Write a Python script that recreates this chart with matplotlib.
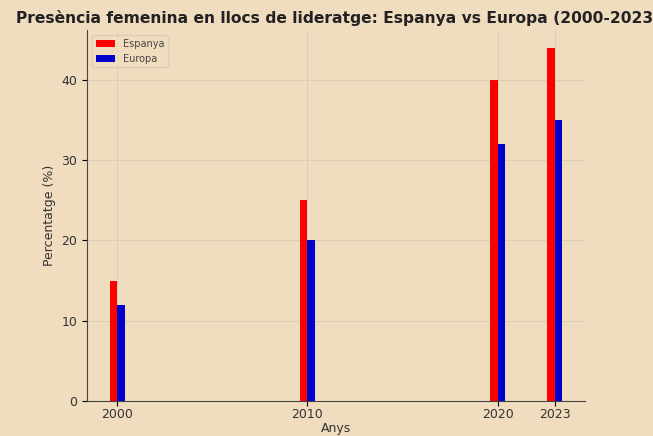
import matplotlib
matplotlib.use("Agg")
import matplotlib.pyplot as plt
import numpy as np

years = [2000, 2010, 2020, 2023]
espanya = [15, 25, 40, 44]
europa = [12, 20, 32, 35]

bg = "#F0DCBF"
fig = plt.figure(figsize=(6.53, 4.36), dpi=100, facecolor=bg)
ax = fig.add_axes([87/653, 1-401/436, (585-87)/653, (401-30)/436])
ax.set_facecolor(bg)
w = 0.4
x = np.array(years)
ax.bar(x - w/2, espanya, width=w, color="#FF0000", label="Espanya")
ax.bar(x + w/2, europa, width=w, color="#0000CC", label="Europa")
ax.set_xticks(years)
ax.set_xticklabels([str(y) for y in years], fontsize=9, color="#333333")
ax.tick_params(axis="x", pad=1.5)
ax.tick_params(axis="y", labelsize=9, labelcolor="#333333")
ax.set_xlabel("Anys", fontsize=9, color="#333333", labelpad=1)
ax.set_ylabel("Percentatge (%)", fontsize=9, color="#333333")
ax.set_title("Presència femenina en llocs de lideratge: Espanya vs Europa (2000-2023)",
             fontsize=11.2, fontweight="bold", color="#222222", pad=5, x=0.505)
ax.grid(True, color="#d6cab6", linewidth=0.7, alpha=0.8)
ax.set_axisbelow(True)
for s in ["top", "right"]:
    ax.spines[s].set_visible(False)
for s in ["left", "bottom"]:
    ax.spines[s].set_color("#444444")
ax.legend(loc="upper left", fontsize=7, frameon=True, facecolor=bg, edgecolor="#d8ccb8",
          labelcolor="#444444")
fig.savefig("out.png", dpi=100, facecolor=bg)
